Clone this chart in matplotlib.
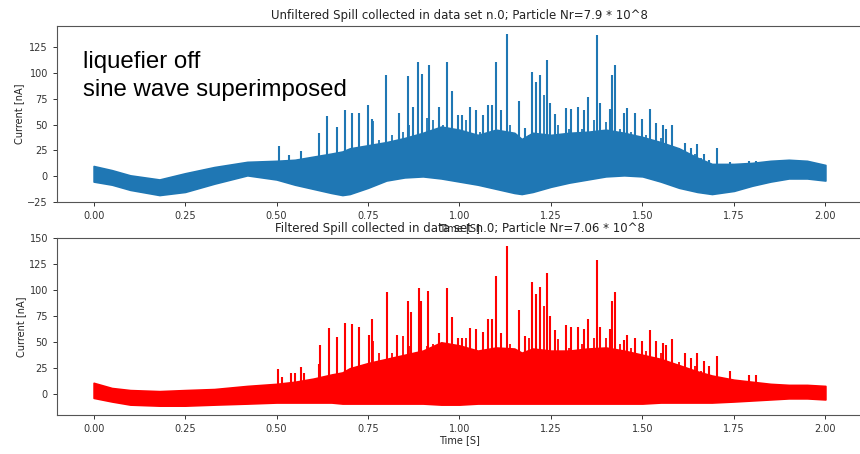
import matplotlib
matplotlib.use("Agg")
import matplotlib.pyplot as plt
import numpy as np

# envelope of the dense band (time knots in s, current in nA)
band_t = [0.00, 0.05, 0.10, 0.18, 0.25, 0.33, 0.42, 0.50, 0.55, 0.60, 0.65, 0.68,
          0.70, 0.75, 0.80, 0.85, 0.90, 0.95, 1.00, 1.05, 1.10, 1.15, 1.17, 1.20,
          1.25, 1.30, 1.35, 1.40, 1.45, 1.50, 1.55, 1.60, 1.65, 1.69, 1.75, 1.80,
          1.85, 1.90, 1.95, 2.00]

raw_upper = [10, 6, 1, -3, 3, 9, 14, 15, 16, 19, 22, 24,
             27, 30, 33, 37, 42, 48, 45, 40, 45, 42, 36, 42,
             40, 42, 43, 45, 42, 38, 33, 27, 18, 12, 12, 13,
             15, 16, 15, 11]
raw_lower = [-5, -8, -13, -18, -15, -7, 1, -3, -8, -12, -16, -18,
             -17, -11, -4, -1, 0, -2, -5, -8, -12, -16, -17, -15,
             -10, -6, -3, 0, 1, 0, -5, -11, -15, -17, -14, -9,
             -5, -2, -2, -4]

filt_upper = [11, 6, 4, 3, 4, 5, 8, 10, 12, 15, 19, 21,
              25, 30, 34, 38, 42, 50, 47, 42, 45, 44, 40, 44,
              42, 42, 44, 45, 42, 38, 34, 28, 22, 18, 14, 12,
              10, 9, 9, 8]
filt_lower = [-3.5, -7, -10, -11, -11, -10, -9, -8, -8, -8, -8, -9,
              -9, -9, -9, -9, -9, -10, -10, -9, -9, -9, -9, -9,
              -9, -9, -9, -9, -9, -9, -8, -8, -8, -8, -7, -6,
              -5, -4, -4, -5]

# individual spikes above the band
raw_spike_t = [0.508, 0.535, 0.566, 0.617, 0.639, 0.666, 0.687, 0.706, 0.724, 0.749,
               0.762, 0.798, 0.836, 0.858, 0.874, 0.886, 0.898, 0.918, 0.945, 0.965,
               0.980, 0.995, 1.007, 1.030, 1.044, 1.065, 1.079, 1.090, 1.099, 1.114,
               1.129, 1.162, 1.180, 1.197, 1.208, 1.220, 1.238, 1.247, 1.262, 1.290,
               1.306, 1.324, 1.340, 1.352, 1.377, 1.385, 1.410, 1.417, 1.426, 1.450,
               1.458, 1.479, 1.499, 1.522, 1.538, 1.555, 1.565, 1.582, 1.616, 1.634,
               1.649, 1.668, 1.683, 1.705, 1.740, 1.790, 1.810]
raw_spike_v = [29, 21, 24, 42, 58, 48, 64, 61, 61, 69,
               55, 98, 61, 97, 67, 110, 99, 107, 67, 110,
               82, 59, 59, 67, 64, 59, 69, 69, 110, 64,
               137, 73, 47, 101, 91, 98, 112, 71, 60, 66,
               65, 67, 64, 77, 136, 71, 65, 98, 107, 61,
               66, 61, 55, 65, 51, 50, 46, 50, 32, 27,
               31, 22, 16, 27, 14, 15, 15]

# smaller spikes that roughen the top of the band
raw_minor_t = [0.763, 0.781, 0.815, 0.845, 0.862, 0.910, 0.928, 0.955, 1.019, 1.055,
               1.137, 1.190, 1.230, 1.270, 1.300, 1.336, 1.368, 1.400, 1.440, 1.470,
               1.510, 1.550, 1.600, 1.645, 1.660]
raw_minor_v = [53, 35, 40, 43, 50, 56, 54, 50, 54, 43,
               50, 40, 78, 50, 46, 46, 54, 52, 46, 43,
               40, 37, 27, 22, 18]

filt_spike_t = [0.505, 0.515, 0.539, 0.550, 0.566, 0.575, 0.617, 0.619, 0.642, 0.665,
                0.686, 0.705, 0.726, 0.753, 0.762, 0.801, 0.830, 0.859, 0.868, 0.888,
                0.896, 0.915, 0.945, 0.965, 0.980, 0.995, 1.007, 1.030, 1.044, 1.065,
                1.079, 1.090, 1.099, 1.114, 1.129, 1.162, 1.180, 1.197, 1.208, 1.220,
                1.238, 1.247, 1.262, 1.290, 1.306, 1.324, 1.340, 1.352, 1.377, 1.385,
                1.410, 1.417, 1.426, 1.450, 1.458, 1.479, 1.499, 1.522, 1.538, 1.555,
                1.565, 1.582, 1.616, 1.634, 1.649, 1.668, 1.683, 1.705, 1.740, 1.790,
                1.810]
filt_spike_v = [24, 17, 20, 20, 26, 20, 29, 47, 64, 55,
                69, 68, 65, 57, 72, 98, 57, 90, 79, 102,
                90, 99, 59, 102, 74, 54, 54, 64, 63, 60,
                72, 72, 114, 59, 143, 81, 56, 108, 97, 103,
                117, 75, 62, 67, 65, 65, 63, 72, 129, 65,
                63, 90, 98, 52, 57, 54, 51, 62, 51, 49,
                47, 53, 40, 35, 40, 32, 27, 37, 22, 19,
                19]

filt_minor_t = [0.763, 0.781, 0.815, 0.845, 0.862, 0.910, 0.928, 0.955, 1.019, 1.055,
                1.137, 1.190, 1.230, 1.270, 1.300, 1.336, 1.368, 1.400, 1.440, 1.470,
                1.510, 1.550, 1.600, 1.645, 1.660]
filt_minor_v = [51, 40, 40, 56, 46, 46, 48, 48, 54, 38,
                48, 54, 85, 53, 45, 48, 54, 54, 48, 45,
                42, 40, 31, 27, 22]

titles = ["Unfiltered Spill collected in data set n.0; Particle Nr=7.9 * 10^8",
          "Filtered Spill collected in data set n.0; Particle Nr=7.06 * 10^8"]
xticks = [0.0, 0.25, 0.5, 0.75, 1.0, 1.25, 1.5, 1.75, 2.0]


def draw_panel(ax, upper, lower, spike_t, spike_v, minor_t, minor_v, color, title,
               ylim, yticks):
    ax.fill_between(band_t, lower, upper, color=color, lw=1.2, edgecolor=color)
    ax.vlines(spike_t, 0, spike_v, color=color, lw=1.5)
    ax.vlines(minor_t, 0, minor_v, color=color, lw=1.3)
    ax.set_xlim(-0.1, 2.1)
    ax.set_ylim(*ylim)
    ax.set_xticks(xticks)
    ax.set_xticklabels([f"{t:.2f}" for t in xticks])
    ax.set_yticks(yticks)
    ax.tick_params(labelsize=7, colors="#333333", length=3, width=0.7)
    ax.set_title(title, fontsize=8.5, color="#222222", pad=5)
    ax.set_xlabel("Time [S]", fontsize=7, color="#222222", labelpad=1)
    ax.set_ylabel("Current [nA]", fontsize=7, color="#222222", labelpad=2)
    for sp in ax.spines.values():
        sp.set_color("#555555")
        sp.set_linewidth(0.8)


def main():
    fig = plt.figure(figsize=(8.6, 4.54), dpi=100)
    ax1 = fig.add_axes([0.0663, 0.5544, 0.936, 0.3883])
    ax2 = fig.add_axes([0.0663, 0.0859, 0.936, 0.3888])

    draw_panel(ax1, raw_upper, raw_lower, raw_spike_t, raw_spike_v,
               raw_minor_t, raw_minor_v, "#1f77b4",
               titles[0], (-25, 145), [-25, 0, 25, 50, 75, 100, 125])
    draw_panel(ax2, filt_upper, filt_lower, filt_spike_t, filt_spike_v,
               filt_minor_t, filt_minor_v, "red",
               titles[1], (-20, 150), [0, 25, 50, 75, 100, 125, 150])

    ax1.text(0.032, 0.86, "liquefier off\nsine wave superimposed",
             transform=ax1.transAxes, va="top", ha="left",
             fontsize=17.3, family="Liberation Sans", fontstretch="normal",
             linespacing=1.4)

    fig.savefig("out.png", dpi=100)


if __name__ == "__main__":
    main()
